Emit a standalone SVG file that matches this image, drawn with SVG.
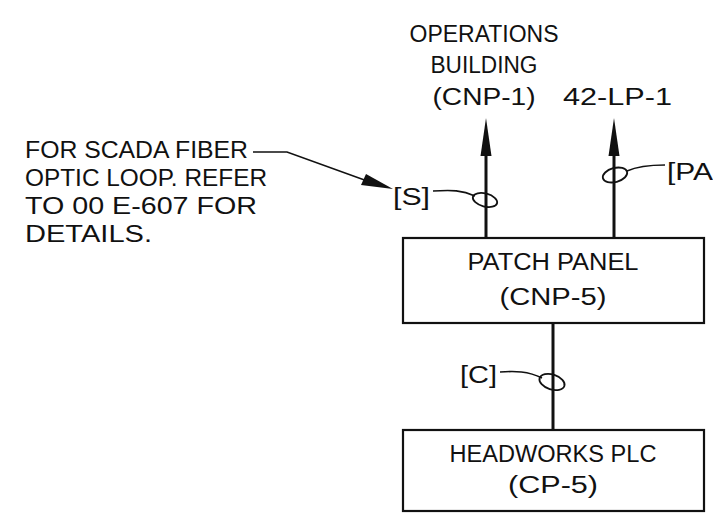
<svg xmlns="http://www.w3.org/2000/svg" width="713" height="513" viewBox="0 0 713 513">
<style>
text{font-family:"Liberation Sans",Arial,sans-serif;font-size:23px;fill:#111}
.box{fill:none;stroke:#111;stroke-width:2.2}
.shaft{stroke:#111;stroke-width:3;fill:none}
.lead{stroke:#111;stroke-width:1.6;fill:none}
.ell{stroke:#111;stroke-width:1.8;fill:none}
.head{fill:#111}
.c{text-anchor:middle}
</style>
<rect width="713" height="513" fill="#fff"/>
<g id="operations">
<text class="c" x="484" y="42" textLength="149" lengthAdjust="spacingAndGlyphs">OPERATIONS</text>
<text class="c" x="484" y="73" textLength="107" lengthAdjust="spacingAndGlyphs">BUILDING</text>
<text class="c" x="484" y="105" textLength="103" lengthAdjust="spacingAndGlyphs">(CNP-1)</text>
</g>
<g id="lp">
<text x="563" y="105" textLength="109" lengthAdjust="spacingAndGlyphs">42-LP-1</text>
</g>
<g id="note">
<text x="25" y="158" textLength="223" lengthAdjust="spacingAndGlyphs">FOR SCADA FIBER</text>
<text x="25" y="186" textLength="242" lengthAdjust="spacingAndGlyphs">OPTIC LOOP. REFER</text>
<text x="25" y="214" textLength="232" lengthAdjust="spacingAndGlyphs">TO 00 E-607 FOR</text>
<text x="25" y="242" textLength="127" lengthAdjust="spacingAndGlyphs">DETAILS.</text>
</g>
<g id="patch-panel">
<rect class="box" x="403" y="238" width="301" height="85"/>
<text class="c" x="553" y="270" textLength="171" lengthAdjust="spacingAndGlyphs">PATCH PANEL</text>
<text class="c" x="553" y="305" textLength="107" lengthAdjust="spacingAndGlyphs">(CNP-5)</text>
</g>
<g id="headworks-plc">
<rect class="box" x="403" y="430" width="301" height="81"/>
<text class="c" x="553" y="462" textLength="207" lengthAdjust="spacingAndGlyphs">HEADWORKS PLC</text>
<text class="c" x="553" y="493" textLength="90" lengthAdjust="spacingAndGlyphs">(CP-5)</text>
</g>
<g id="labels">
<text x="393" y="205" textLength="37" lengthAdjust="spacingAndGlyphs">[S]</text>
<text x="667" y="180" textLength="46" lengthAdjust="spacingAndGlyphs">[PA</text>
<text x="460" y="383" textLength="37" lengthAdjust="spacingAndGlyphs">[C]</text>
</g>
<g id="connectors">
<line class="shaft" x1="486" y1="238" x2="486" y2="150"/>
<polygon class="head" points="486,118 480.5,156 491.5,156"/>
<line class="shaft" x1="614" y1="238" x2="614" y2="150"/>
<polygon class="head" points="614,118 608.5,156 619.5,156"/>
<line class="shaft" x1="553" y1="323" x2="553" y2="430"/>
<path class="lead" d="M253,152 L287,152 L370,182"/>
<polygon class="head" points="393,189 361,185 366,174"/>
<path class="lead" d="M433,191 C452,190 462,190 475,196"/>
<ellipse class="ell" cx="485" cy="200" rx="12.5" ry="6.5" transform="rotate(15 485 200)"/>
<path class="lead" d="M665,165 C650,165 638,166 627,171"/>
<ellipse class="ell" cx="615" cy="175" rx="12.5" ry="7" transform="rotate(-15 615 175)"/>
<path class="lead" d="M500,372 C515,371 528,371 542,378"/>
<ellipse class="ell" cx="552" cy="382" rx="13" ry="7.5" transform="rotate(18 552 382)"/>
</g>
</svg>
